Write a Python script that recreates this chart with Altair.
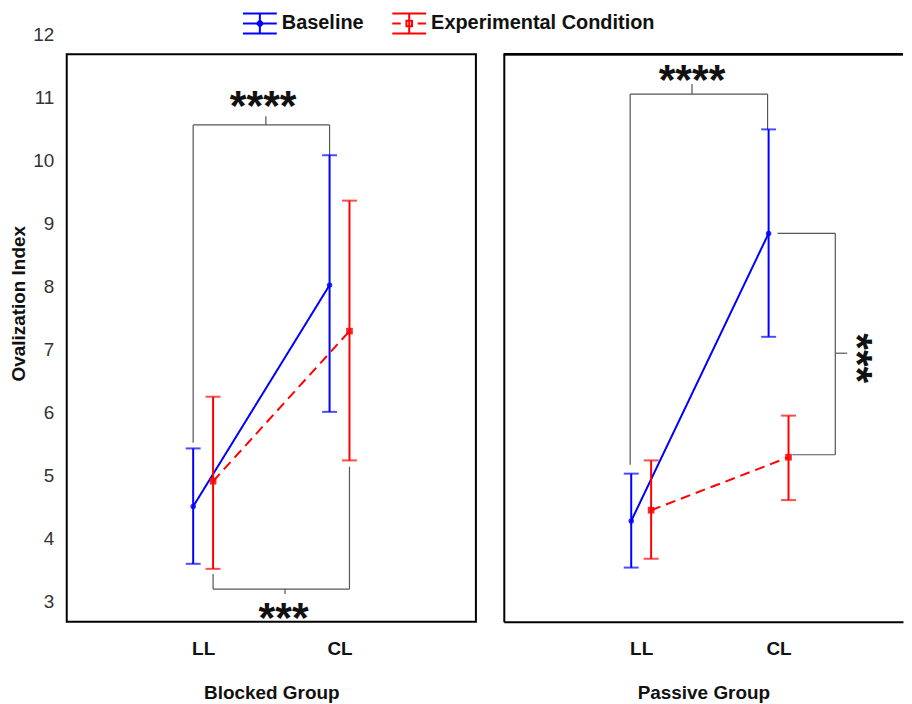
import json
import altair as alt
import pandas as pd

FONT = "Liberation Sans"

conditions = ["LL", "CL"]
series_names = ["Baseline", "Experimental Condition"]
series_colors = ["#0000ff", "#ff0000"]

# Blocked group (mean, lower and upper error bar ends)
blocked_base_mean = [4.51, 8.02]
blocked_base_low = [3.60, 6.01]
blocked_base_high = [5.43, 10.08]
blocked_exp_mean = [4.91, 7.29]
blocked_exp_low = [3.52, 5.24]
blocked_exp_high = [6.25, 9.36]

# Passive group
passive_base_mean = [4.28, 8.84]
passive_base_low = [3.54, 7.20]
passive_base_high = [5.03, 10.49]
passive_exp_mean = [4.45, 5.29]
passive_exp_low = [3.68, 4.61]
passive_exp_high = [5.24, 5.95]

# y tick labels (printed a little above their tick marks in the original)
y_labels = [3, 4, 5, 6, 7, 8, 9, 10, 11, 12]
label_shift = 0.32
y_min = y_labels[0] - label_shift
y_max = y_labels[-1] - label_shift

# significance brackets (data units: x 1 = LL, 2 = CL)
blocked_br_x = [0.927, 0.927, 1.927, 1.46, 1.073, 1.073, 2.073, 1.60]
blocked_br_x2 = [1.927, 0.927, 1.927, 1.46, 2.073, 1.073, 2.073, 1.60]
blocked_br_y = [10.56, 10.56, 10.56, 10.56, 3.20, 3.20, 3.20, 3.20]
blocked_br_y2 = [10.56, 5.52, 10.08, 10.70, 3.20, 3.44, 5.14, 3.12]
blocked_txt = ["****", "***"]
blocked_txt_x = [1.44, 1.59]
blocked_txt_y = [11.01, 2.90]
blocked_txt_angle = [0, 0]

passive_br_x = [0.92, 0.92, 1.92, 1.37, 1.993, 2.10, 2.413, 2.413]
passive_br_x2 = [1.92, 0.92, 1.92, 1.37, 2.413, 2.413, 2.413, 2.50]
passive_br_y = [11.05, 11.05, 11.05, 11.05, 8.84, 5.33, 8.84, 6.94]
passive_br_y2 = [11.05, 5.17, 10.49, 11.21, 8.84, 5.33, 5.33, 6.94]
passive_txt = ["****", "***"]
passive_txt_x = [1.37, 2.64]
passive_txt_y = [11.43, 6.86]
passive_txt_angle = [0, 90]

legend_paths = [
    "M-1.7,-1H1.7M-1.7,1H1.7M-1.7,0H1.7M0,-1V1M0,-0.3L0.3,0L0,0.3L-0.3,0Z",
    "M-1.7,-1H1.7M-1.7,1H1.7M-1.7,0H-0.85M0.85,0H1.7M0,-1V1M-0.28,-0.28H0.28V0.28H-0.28Z",
]


def make_df(bm, bl, bh, em, el, eh):
    rows = []
    for s, (m, lo, hi) in zip(series_names, [(bm, bl, bh), (em, el, eh)]):
        for i, c in enumerate(conditions):
            rows.append(dict(series=s, cond=c, pos=i + 1, mean=m[i], low=lo[i], high=hi[i]))
    return pd.DataFrame(rows)


yscale = alt.Scale(domain=[y_min, y_max], nice=False, zero=False)

y_axis_left = alt.Axis(
    values=[v - label_shift for v in y_labels],
    labelExpr=f"round(datum.value + {label_shift})",
    labelOffset=-20,
    labelFlush=False,
    labelOverlap=False,
    labelFont=FONT,
    labelFontSize=19,
    labelColor="#333333",
    labelPadding=13,
    ticks=False,
    domain=False,
    grid=False,
    title="Ovalization Index",
    titleFont=FONT,
    titleFontSize=19,
    titleFontWeight="bold",
    titleColor="#111111",
    titlePadding=4,
    titleY=250,
)
y_axis_right = alt.Axis(
    labels=False, ticks=False, grid=False, title=None,
    domain=True, domainColor="black", domainWidth=2,
)


def x_axis(title, domain):
    return alt.Axis(
        values=[1, 2],
        labelExpr=f"{json.dumps(conditions)}[datum.value - 1]",
        labelFont=FONT,
        labelFontSize=19,
        labelFontWeight="bold",
        labelColor="#111111",
        labelPadding=18,
        ticks=False,
        grid=False,
        domain=domain,
        domainColor="black",
        domainWidth=2,
        title=title,
        titleFont=FONT,
        titleFontSize=19,
        titleFontWeight="bold",
        titleColor="#111111",
        titlePadding=25,
    )


def build_panel(df, br, tx, width, x_max, title, left):
    xax = x_axis(title, not left)
    yax = y_axis_left if left else y_axis_right
    xs = alt.Scale(domain=[0, x_max], nice=False, zero=False)

    def X(f):
        return alt.X(f"{f}:Q", scale=xs, axis=xax)

    def Y(f):
        return alt.Y(f"{f}:Q", scale=yscale, axis=yax)

    layers = []
    layers.append(
        alt.Chart(br).mark_rule(color="#555555", strokeWidth=1.2).encode(
            x=X("x"), x2="x2:Q", y=Y("y"), y2="y2:Q"
        )
    )
    specs = [
        (series_names[0], series_colors[0], -10, [1, 0], "circle", 30),
        (series_names[1], series_colors[1], 10, [10, 6], "square", 45),
    ]
    for s, color, off, dash, shape, size in specs:
        base = alt.Chart(df).transform_filter(alt.datum.series == s)
        layers += [
            base.mark_line(color=color, strokeWidth=2, strokeDash=dash, xOffset=off).encode(x=X("pos"), y=Y("mean")),
            base.mark_rule(color=color, strokeWidth=2, xOffset=off).encode(x=X("pos"), y=Y("low"), y2="high:Q"),
            base.mark_tick(color=color, orient="horizontal", size=15, thickness=2, xOffset=off).encode(x=X("pos"), y=Y("low")),
            base.mark_tick(color=color, orient="horizontal", size=15, thickness=2, xOffset=off).encode(x=X("pos"), y=Y("high")),
            base.mark_point(filled=True, shape=shape, size=size, color=color, opacity=0.85, xOffset=off).encode(x=X("pos"), y=Y("mean")),
        ]
    layers.append(
        alt.Chart(tx).mark_text(font=FONT, fontSize=43, fontWeight="bold", color="#111111",
                                 align="center", baseline="alphabetic", dy=24).encode(
            x=X("x"), y=Y("y"), text="label:N", angle=alt.Angle("angle:Q", scale=None)
        )
    )
    if left:
        leg = alt.Legend(
            title=None, orient="none", legendX=183, legendY=-42, direction="horizontal",
            symbolSize=400, symbolStrokeWidth=2, symbolOpacity=1,
            labelFont=FONT, labelFontSize=20, labelFontWeight="bold", labelColor="#111111",
            labelLimit=400, labelOffset=11, columnPadding=24,
        )
        layers.append(
            alt.Chart(df).mark_point(opacity=0, filled=False).encode(
                x=X("pos"), y=Y("mean"),
                color=alt.Color("series:N", scale=alt.Scale(domain=series_names, range=series_colors), legend=leg),
                shape=alt.Shape("series:N", scale=alt.Scale(domain=series_names, range=legend_paths), legend=leg),
            )
        )
    else:
        layers.append(
            alt.Chart(df).mark_rule(color="black", strokeWidth=2).encode(
                x=alt.datum(0), x2=alt.datum(x_max), y=alt.datum(y_max)
            )
        )
    view = (alt.ViewBackground(stroke="black", strokeWidth=2) if left
            else alt.ViewBackground(strokeOpacity=0))
    return alt.layer(*layers).properties(width=width, height=570, view=view)


blocked_df = make_df(blocked_base_mean, blocked_base_low, blocked_base_high,
                     blocked_exp_mean, blocked_exp_low, blocked_exp_high)
passive_df = make_df(passive_base_mean, passive_base_low, passive_base_high,
                     passive_exp_mean, passive_exp_low, passive_exp_high)
blocked_br = pd.DataFrame(dict(x=blocked_br_x, x2=blocked_br_x2, y=blocked_br_y, y2=blocked_br_y2))
passive_br = pd.DataFrame(dict(x=passive_br_x, x2=passive_br_x2, y=passive_br_y, y2=passive_br_y2))
blocked_tx = pd.DataFrame(dict(label=blocked_txt, x=blocked_txt_x, y=blocked_txt_y, angle=blocked_txt_angle))
passive_tx = pd.DataFrame(dict(label=passive_txt, x=passive_txt_x, y=passive_txt_y, angle=passive_txt_angle))

left_panel = build_panel(blocked_df, blocked_br, blocked_tx, 411, 3.0, "Blocked Group", True)
right_panel = build_panel(passive_df, passive_br, passive_tx, 401, 401 / 138, "Passive Group", False)

chart = alt.hconcat(left_panel, right_panel, spacing=26).properties(
    padding={"left": 0, "top": 3, "right": 0, "bottom": 0},
    background="white",
)

chart.save("out.html", embed_options={"renderer": "svg", "actions": False})
